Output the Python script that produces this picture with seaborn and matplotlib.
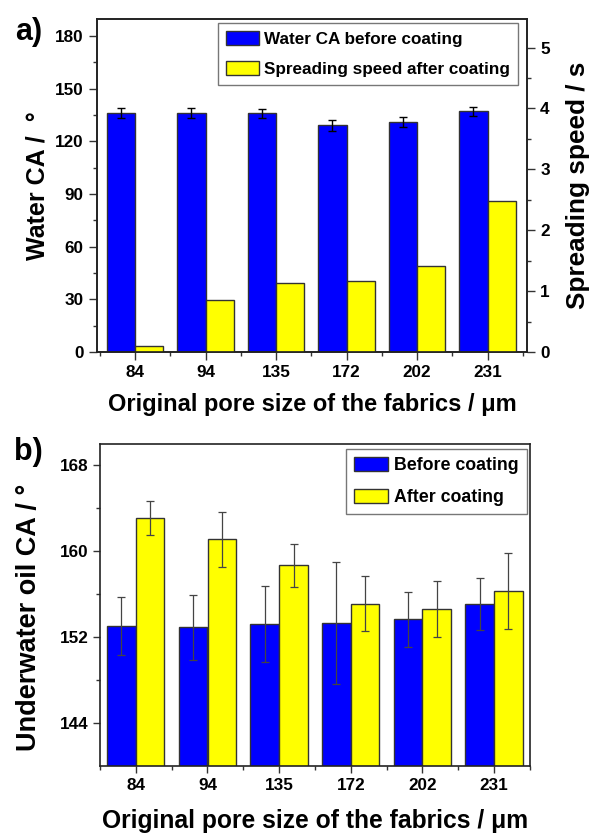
import matplotlib
matplotlib.use("Agg")
import matplotlib.pyplot as plt
import seaborn as sns
import pandas as pd
import numpy as np
from matplotlib.patches import Patch
from matplotlib.ticker import MultipleLocator

sns.set_style("white")
plt.rcParams['font.family'] = ['Liberation Sans', 'DejaVu Sans']
plt.rcParams['font.weight'] = 'bold'
plt.rcParams['text.color'] = 'black'
plt.rcParams['axes.labelcolor'] = 'black'
plt.rcParams['xtick.color'] = 'black'
plt.rcParams['ytick.color'] = 'black'

# ---------------- data ----------------
pore_sizes = ["84", "94", "135", "172", "202", "231"]

# panel a
water_ca_before = [136.0, 136.0, 136.0, 129.0, 131.0, 137.0]
water_ca_before_err = [2.7, 2.7, 2.5, 3.0, 2.9, 2.6]
spreading_speed_after = [0.10, 0.86, 1.13, 1.17, 1.42, 2.48]

# panel b
oil_ca_before = [153.05, 152.9, 153.2, 153.3, 153.65, 155.1]
oil_ca_before_err = [2.7, 3.0, 3.55, 5.7, 2.55, 2.4]
oil_ca_after = [163.1, 161.1, 158.7, 155.1, 154.6, 156.3]
oil_ca_after_err = [1.6, 2.6, 2.0, 2.55, 2.6, 3.56]

BLUE = "#0000FF"
YELLOW = "#FFFF00"
EDGE = "#333333"

lab_a1 = "Water CA before coating"
lab_a2 = "Spreading speed after coating"
lab_b1 = "Before coating"
lab_b2 = "After coating"

fig = plt.figure(figsize=(5.92, 8.33), dpi=100)

TICK_FS = 12.3

def style_ticks(ax, major_len=6, minor_len=3):
    ax.tick_params(axis='both', which='major', direction='out', length=major_len,
                   width=1.0, labelsize=TICK_FS, color='#333333', labelcolor='black')
    ax.tick_params(axis='both', which='minor', direction='out', length=minor_len,
                   width=1.0, color='#333333')
    for s in ax.spines.values():
        s.set_linewidth(1.2)
        s.set_color('#222222')

def bar_positions(ax):
    res = {}
    for p in ax.patches:
        cx = p.get_x() + p.get_width() / 2
        idx = int(round(cx))
        side = 0 if cx < idx else 1
        res[(idx, side)] = (cx, p.get_height())
    return res

# ---------------- panel a ----------------
ax1 = fig.add_axes([97/592, 1-352/833, 430/592, 333/833])
ax2 = ax1.twinx()

dfa1 = pd.DataFrame({"size": pore_sizes, "val": water_ca_before, "series": lab_a1})
dfa2 = pd.DataFrame({"size": pore_sizes, "val": spreading_speed_after, "series": lab_a2})
pal_a = {lab_a1: BLUE, lab_a2: YELLOW}

sns.barplot(data=dfa1, x="size", y="val", hue="series", hue_order=[lab_a1, lab_a2],
            order=pore_sizes, palette=pal_a, dodge=True, errorbar=None, legend=False,
            width=0.8, gap=0, edgecolor=EDGE, linewidth=1.0, saturation=1, ax=ax1)
sns.barplot(data=dfa2, x="size", y="val", hue="series", hue_order=[lab_a1, lab_a2],
            order=pore_sizes, palette=pal_a, dodge=True, errorbar=None, legend=False,
            width=0.8, gap=0, edgecolor=EDGE, linewidth=1.0, saturation=1, ax=ax2)

pos = bar_positions(ax1)
xs = [pos[(i, 0)][0] for i in range(len(pore_sizes))]
ys = [pos[(i, 0)][1] for i in range(len(pore_sizes))]
ax1.errorbar(xs, ys, yerr=water_ca_before_err, fmt='none', ecolor='black',
             elinewidth=1.0, capsize=3, capthick=1.0, zorder=5)

ax1.set_xlim(-0.54, 5.56)
ax1.set_ylim(0, 189.6)
ax2.set_ylim(0, 5.47)
ax1.yaxis.set_major_locator(MultipleLocator(30))
ax1.yaxis.set_minor_locator(MultipleLocator(15))
ax2.yaxis.set_major_locator(MultipleLocator(1))
ax2.yaxis.set_minor_locator(MultipleLocator(0.5))
ax1.set_xticks(range(len(pore_sizes)))
ax1.set_xticklabels(pore_sizes)
ax1.set_xticks(np.arange(-0.5, 6.0, 1.0), minor=True)
style_ticks(ax1)
style_ticks(ax2)
ax1.tick_params(axis='y', which='both', left=True, right=False)
ax1.tick_params(axis='x', which='both', bottom=True, top=False)
ax2.tick_params(axis='y', which='both', right=True, left=False)
for lab in ax1.get_xticklabels() + ax1.get_yticklabels() + ax2.get_yticklabels():
    lab.set_fontweight('bold')

ax1.set_xlabel("Original pore size of the fabrics / μm", fontsize=17, fontweight='bold', labelpad=9)
ax1.set_ylabel("Water CA /  °", fontsize=18, fontweight='bold', labelpad=4)
ax2.set_ylabel("Spreading speed / s", fontsize=18.8, fontweight='bold', labelpad=12)
ax2.set_xlabel("")

handles_a = [Patch(facecolor=BLUE, edgecolor=EDGE, label=lab_a1),
             Patch(facecolor=YELLOW, edgecolor=EDGE, label=lab_a2)]
leg = ax2.legend(handles=handles_a, loc='upper right', bbox_to_anchor=(0.979, 0.988),
                 borderaxespad=0, fontsize=12.3, frameon=True, fancybox=False, framealpha=1,
                 edgecolor='#777777', handlelength=1.95, handleheight=0.9,
                 labelspacing=0.85, borderpad=0.45, handletextpad=0.3)
leg.get_frame().set_linewidth(1.0)
for t in leg.get_texts():
    t.set_fontweight('bold')

fig.text(15/592, 1-32/833, "a)", fontsize=22, fontweight='bold', va='center', ha='left')

# ---------------- panel b ----------------
ax3 = fig.add_axes([100/592, 1-765.7/833, 430/592, 321.7/833])
dfb = pd.DataFrame({
    "size": pore_sizes + pore_sizes,
    "val": oil_ca_before + oil_ca_after,
    "series": [lab_b1] * len(pore_sizes) + [lab_b2] * len(pore_sizes),
})
pal_b = {lab_b1: BLUE, lab_b2: YELLOW}
sns.barplot(data=dfb, x="size", y="val", hue="series", hue_order=[lab_b1, lab_b2],
            order=pore_sizes, palette=pal_b, dodge=True, errorbar=None, legend=False,
            width=0.8, gap=0, edgecolor=EDGE, linewidth=1.0, saturation=1, ax=ax3)
ax3.set_ylim(140, 170)
posb = bar_positions(ax3)
for side, errs in ((0, oil_ca_before_err), (1, oil_ca_after_err)):
    xs = [posb[(i, side)][0] for i in range(len(pore_sizes))]
    ys = [posb[(i, side)][1] for i in range(len(pore_sizes))]
    ax3.errorbar(xs, ys, yerr=errs, fmt='none', ecolor='#444444',
                 elinewidth=0.9, capsize=3, capthick=0.9, zorder=5)

ax3.set_ylim(140, 170)
ax3.set_xlim(-0.5, 5.5)
ax3.set_yticks([144, 152, 160, 168])
ax3.set_yticks([148, 156, 164], minor=True)
ax3.set_xticks(range(len(pore_sizes)))
ax3.set_xticklabels(pore_sizes)
ax3.set_xticks(np.arange(-0.5, 6.0, 1.0), minor=True)
style_ticks(ax3, major_len=5)
ax3.tick_params(axis='y', which='both', left=True, right=False)
ax3.tick_params(axis='x', which='both', bottom=True, top=False)
for lab in ax3.get_xticklabels() + ax3.get_yticklabels():
    lab.set_fontweight('bold')
ax3.set_xlabel("Original pore size of the fabrics / μm", fontsize=17.7, fontweight='bold', labelpad=12)
ax3.set_ylabel("Underwater oil CA / °", fontsize=19.5, fontweight='bold')
ax3.yaxis.set_label_coords(-0.135, 0.46)

handles_b = [Patch(facecolor=BLUE, edgecolor=EDGE, label=lab_b1),
             Patch(facecolor=YELLOW, edgecolor=EDGE, label=lab_b2)]
legb = ax3.legend(handles=handles_b, loc='upper right', bbox_to_anchor=(0.993, 0.984),
                  borderaxespad=0, fontsize=12.8, frameon=True, fancybox=False, framealpha=1,
                  edgecolor='#777777', handlelength=1.9, handleheight=0.85,
                  labelspacing=0.8, borderpad=0.45, handletextpad=0.35)
legb.get_frame().set_linewidth(1.0)
for t in legb.get_texts():
    t.set_fontweight('bold')

fig.text(14/592, 1-452/833, "b)", fontsize=22, fontweight='bold', va='center', ha='left')

fig.savefig("out.png", dpi=100)
